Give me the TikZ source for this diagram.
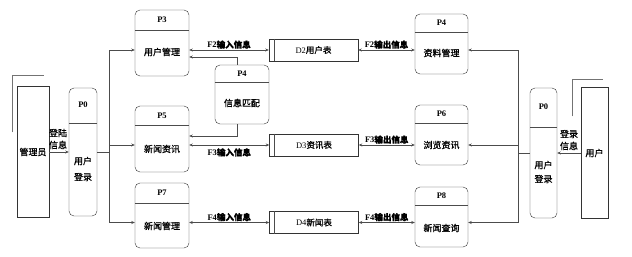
\documentclass[tikz,border=0pt]{standalone}
\usepackage{fontspec}
\setmainfont{Liberation Serif}
\newfontfamily\cjk{Noto Sans CJK SC}[FakeBold=1]
\usetikzlibrary{positioning,arrows.meta,calc}

\begin{document}
\begin{tikzpicture}[x=1pt,y=-1pt,>={Stealth[length=3.5pt,width=3pt]},
  font=\fontsize{8.5}{11}\selectfont,
  proc/.style={draw=black!80,rounded corners=5pt,minimum width=54pt,minimum height=64pt,inner sep=0pt},
  store/.style={draw=black!80,minimum width=89pt,minimum height=22pt,inner sep=0pt},
  ent/.style={draw=black!80,inner sep=0pt},
  cn/.style={font=\fontsize{9}{11}\selectfont\cjk,inner sep=1pt},
  ptitle/.style={font=\fontsize{8.5}{10}\selectfont\bfseries,inner sep=1pt},
  flab/.style={font=\fontsize{8.5}{10}\selectfont\bfseries,inner sep=1pt},
  ln/.style={draw=black!70,semithick},
  a/.style={->,draw=black!70,semithick},
  a2/.style={<->,draw=black!70,semithick}]
  \useasboundingbox (0,0) rectangle (632,257);
  % external entities
  \node[ent,cn,minimum width=32pt,minimum height=131pt] (adm) at (33,152) {管理员};
  \draw[ln,draw=black!55] ([shift={(-5pt,-46pt)}]adm.north west) -- ([shift={(-5pt,11pt)}]adm.north west)
    -- ([shift={(-5pt,11pt)}]adm.north east);
  \node[ent,cn,minimum width=27pt,minimum height=131pt] (usr) at (594.5,153) {用户};
  \draw[ln,draw=black!55] ([shift={(-9pt,-29pt)}]usr.north west) -- ([shift={(-9pt,8pt)}]usr.north west)
    -- ([shift={(-5pt,8pt)}]usr.north east);
  % login processes
  \node[proc,minimum width=28pt,minimum height=128pt] (p0l) at (83,152) {};
  \draw[ln] ([yshift=-35pt]p0l.north west) -- ([yshift=-35pt]p0l.north east);
  \node[ptitle] (p0lt) at ([yshift=-17pt]p0l.north) {P0};
  \node[cn,align=center] (p0lb) at ([yshift=-17pt]p0l.center) {用户\\[5pt]登录};
  \node[proc,minimum width=27pt,minimum height=130pt] (p0r) at (543.5,153) {};
  \draw[ln] ([yshift=-39pt]p0r.north west) -- ([yshift=-39pt]p0r.north east);
  \node[ptitle] (p0rt) at ([yshift=-19pt]p0r.north) {P0};
  \node[cn,align=center] (p0rb) at ([yshift=-19pt]p0r.center) {用户\\[3pt]登录};
  % left processes
  \node[proc,minimum height=66pt] (p3) at (162,43) {};
  \draw[ln] ([yshift=-20pt]p3.north west) -- ([yshift=-20pt]p3.north east);
  \node[ptitle] (p3t) at ([yshift=-10pt]p3.north) {P3};
  \node[cn] (p3b) at ([yshift=-9pt]p3.center) {用户管理};
  \node[proc,minimum height=66pt] (p5) at (162,139) {};
  \draw[ln] ([yshift=-19pt]p5.north west) -- ([yshift=-19pt]p5.north east);
  \node[ptitle] (p5t) at ([yshift=-10pt]p5.north) {P5};
  \node[cn] (p5b) at ([yshift=-10pt]p5.center) {新闻资讯};
  \node[proc,minimum height=65pt] (p7) at (162,215.5) {};
  \draw[ln] ([yshift=-20pt]p7.north west) -- ([yshift=-20pt]p7.north east);
  \node[ptitle] (p7t) at ([yshift=-10pt]p7.north) {P7};
  \node[cn] (p7b) at ([yshift=-10.5pt]p7.center) {新闻管理};
  \node[proc,minimum height=59pt] (p4m) at (242,94.5) {};
  \draw[ln] ([yshift=-17pt]p4m.north west) -- ([yshift=-17pt]p4m.north east);
  \node[ptitle] (p4mt) at ([yshift=-8.5pt]p4m.north) {P4};
  \node[cn] (p4mb) at ([yshift=-8.5pt]p4m.center) {信息匹配};
  % right processes
  \node[proc,minimum width=53pt,minimum height=60pt] (r4) at (441.5,44) {};
  \draw[ln] ([yshift=-18pt]r4.north west) -- ([yshift=-18pt]r4.north east);
  \node[ptitle] (r4t) at ([yshift=-9pt]r4.north) {P4};
  \node[cn] (r4b) at ([yshift=-9pt]r4.center) {资料管理};
  \node[proc,minimum width=53pt,minimum height=60pt] (p6) at (441.5,135) {};
  \draw[ln] ([yshift=-18pt]p6.north west) -- ([yshift=-18pt]p6.north east);
  \node[ptitle] (p6t) at ([yshift=-9pt]p6.north) {P6};
  \node[cn] (p6b) at ([yshift=-10pt]p6.center) {浏览资讯};
  \node[proc,minimum width=53pt,minimum height=60pt] (p8) at (441.5,217) {};
  \draw[ln] ([yshift=-18pt]p8.north west) -- ([yshift=-18pt]p8.north east);
  \node[ptitle] (p8t) at ([yshift=-9pt]p8.north) {P8};
  \node[cn] (p8b) at ([yshift=-11pt]p8.center) {新闻查询};
  % data stores
  \node[store] (d2) at (313.5,50) {D2{\cjk 用户表}};
  \node[store] (d3) at (314,145) {D3{\cjk 资讯表}};
  \node[store] (d4) at (314,222.5) {D4{\cjk 新闻表}};
  \draw[ln] ([xshift=5pt]d2.north west) -- ([xshift=5pt]d2.south west);
  \draw[ln] ([xshift=5pt]d3.north west) -- ([xshift=5pt]d3.south west);
  \draw[ln] ([xshift=5pt]d4.north west) -- ([xshift=5pt]d4.south west);
  % login flows
  \coordinate (lt) at (109,152);
  \coordinate (rt) at (518,153);
  \draw[a] (adm) -- (p0l);
  \node[cn,align=center] (lgl) at (58,139) {登陆\\[1pt]信息};
  \draw[ln] (p0l) -- (lt);
  \draw[a] (lt) |- (p3.west |- d2);
  \draw[a] (lt) |- (p5.west |- d3);
  \draw[a] (lt) |- (p7.west |- d4);
  \draw[a] (usr) -- (p0r);
  \node[cn,align=center] (lgr) at (569,140) {登录\\[1pt]信息};
  \draw[ln] (p0r) -- (rt);
  \draw[a] (rt) |- (r4.east |- d2);
  \draw[a] (rt) |- (p6.east |- d3);
  \draw[a] (rt) |- (p8.east |- d4);
  % matching
  \draw[a] ([xshift=-5pt]p4m.north) |- ([yshift=-14pt]p3.east);
  \draw[a] ([xshift=-5pt]p4m.south) |- ([yshift=3pt]p5.east);
  % data flows
  \draw[a2] (p3.east |- d2) -- node[flab,above] (f2in) {F2{\cjk 输入信息}} (d2);
  \draw[a2] (d2) -- node[flab,above] (f2out) {F2{\cjk 输出信息}} (r4.west |- d2);
  \draw[a2] (p5.east |- d3) -- node[flab,below=2pt] (f3in) {F3{\cjk 输入信息}} (d3);
  \draw[a2] (d3) -- node[flab,above] (f3out) {F3{\cjk 输出信息}} (p6.west |- d3);
  \draw[a2] (p7.east |- d4) -- node[flab,above] (f4in) {F4{\cjk 输入信息}} (d4);
  \draw[a2] (d4) -- node[flab,above] (f4out) {F4{\cjk 输出信息}} (p8.west |- d4);
\end{tikzpicture}
\end{document}
